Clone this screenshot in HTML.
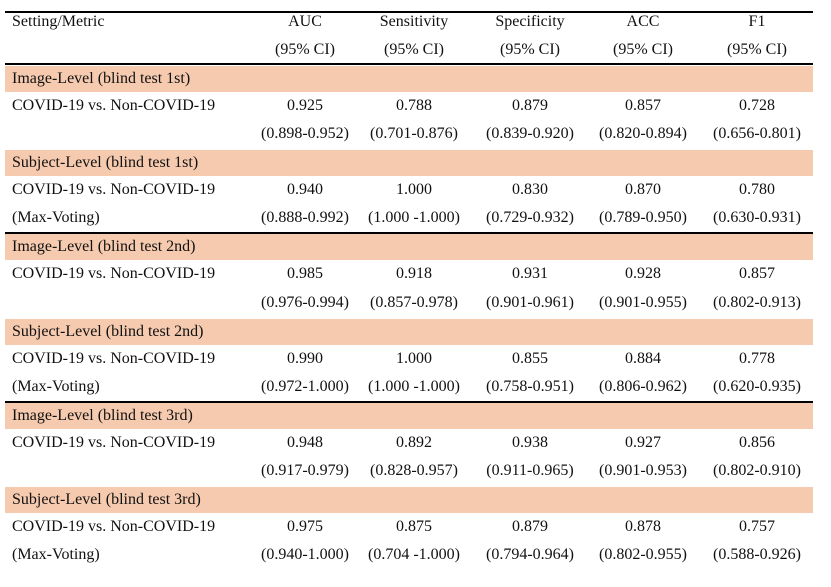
<!DOCTYPE html>
<html><head><meta charset="utf-8"><style>
body{margin:0;width:831px;height:587px;background:#fff;position:relative;overflow:hidden;font-family:"Liberation Serif",serif;font-size:16px;color:#111}
.r{position:absolute;left:5px;width:808px;height:28px;line-height:28px}
.b{background:#f6caae;height:26px;line-height:26px}
.c{position:absolute;top:0;transform:translateX(-50%);white-space:nowrap}
.l{position:absolute;left:7px;top:0;white-space:nowrap}
.hl{position:absolute;left:5px;width:808px;background:#000}
</style></head><body>
<div class="hl" style="top:11px;height:2px"></div>
<div class="hl" style="top:63px;height:2px"></div>
<div class="hl" style="top:232px;height:2px"></div>
<div class="hl" style="top:401px;height:2px"></div>
<div id="t"></div>
<script>
const cols=[305,414,530,643,757];
const rows=[
["h","Setting/Metric","AUC","Sensitivity","Specificity","ACC","F1"],
["h","","(95% CI)","(95% CI)","(95% CI)","(95% CI)","(95% CI)"],
["b","Image-Level (blind test 1st)"],
["d","COVID-19 vs. Non-COVID-19","0.925","0.788","0.879","0.857","0.728"],
["d","","(0.898-0.952)","(0.701-0.876)","(0.839-0.920)","(0.820-0.894)","(0.656-0.801)"],
["b","Subject-Level (blind test 1st)"],
["d","COVID-19 vs. Non-COVID-19","0.940","1.000","0.830","0.870","0.780"],
["d","(Max-Voting)","(0.888-0.992)","(1.000 -1.000)","(0.729-0.932)","(0.789-0.950)","(0.630-0.931)"],
["b","Image-Level (blind test 2nd)"],
["d","COVID-19 vs. Non-COVID-19","0.985","0.918","0.931","0.928","0.857"],
["d","","(0.976-0.994)","(0.857-0.978)","(0.901-0.961)","(0.901-0.955)","(0.802-0.913)"],
["b","Subject-Level (blind test 2nd)"],
["d","COVID-19 vs. Non-COVID-19","0.990","1.000","0.855","0.884","0.778"],
["d","(Max-Voting)","(0.972-1.000)","(1.000 -1.000)","(0.758-0.951)","(0.806-0.962)","(0.620-0.935)"],
["b","Image-Level (blind test 3rd)"],
["d","COVID-19 vs. Non-COVID-19","0.948","0.892","0.938","0.927","0.856"],
["d","","(0.917-0.979)","(0.828-0.957)","(0.911-0.965)","(0.901-0.953)","(0.802-0.910)"],
["b","Subject-Level (blind test 3rd)"],
["d","COVID-19 vs. Non-COVID-19","0.975","0.875","0.879","0.878","0.757"],
["d","(Max-Voting)","(0.940-1.000)","(0.704 -1.000)","(0.794-0.964)","(0.802-0.955)","(0.588-0.926)"]
];
const t=document.getElementById('t');
rows.forEach((r,i)=>{
 const d=document.createElement('div');
 d.className='r'+(r[0]==='b'?' b':'');
 const cy=22+i*28.05;
 d.style.top=(r[0]==='b'?cy-13+1:cy-14)+'px';
 
 
 const l=document.createElement('span');l.className='l';l.textContent=r[1];
 
 
 d.appendChild(l);
 for(let k=2;k<r.length;k++){
  const s=document.createElement('span');s.className='c';s.style.left=(cols[k-2]-5)+'px';s.textContent=r[k];
  
  
  d.appendChild(s);
 }
 t.appendChild(d);
});
</script>
</body></html>
